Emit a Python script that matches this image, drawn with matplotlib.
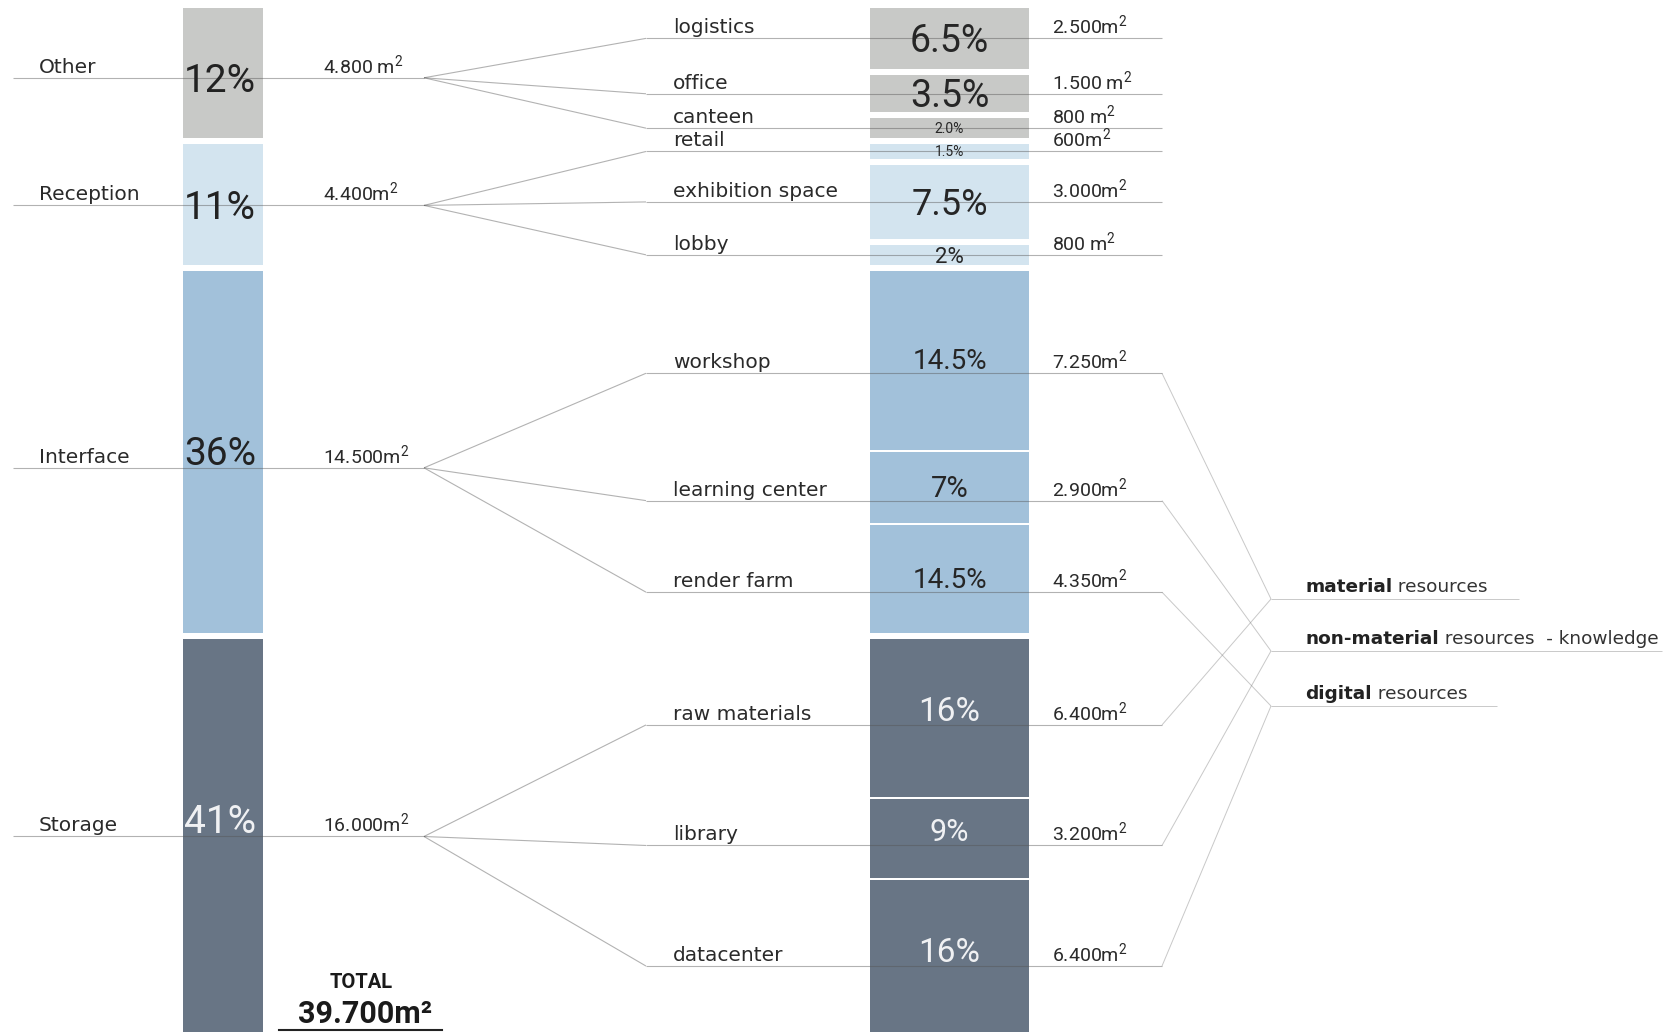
import numpy as np
import matplotlib
matplotlib.use('Agg')
import matplotlib.pyplot as plt
from matplotlib.transforms import offset_copy

# ---------------- data ----------------
groups = ['Other', 'Reception', 'Interface', 'Storage']
group_area = [4800, 4400, 14500, 16000]
group_pct = ['12%', '11%', '36%', '41%']
group_area_label = ['4.800 m²', '4.400m²', '14.500m²', '16.000m²']

spaces = ['logistics', 'office', 'canteen', 'retail', 'exhibition space', 'lobby',
          'workshop', 'learning center', 'render farm',
          'raw materials', 'library', 'datacenter']
space_group = [0, 0, 0, 1, 1, 1, 2, 2, 2, 3, 3, 3]
space_area = [2500, 1500, 800, 600, 3000, 800, 7250, 2900, 4350, 6400, 3200, 6400]
space_pct = ['6.5%', '3.5%', '2.0%', '1.5%', '7.5%', '2%',
             '14.5%', '7%', '14.5%', '16%', '9%', '16%']
space_area_label = ['2.500m²', '1.500 m²', '800 m²', '600m²', '3.000m²', '800 m²',
                    '7.250m²', '2.900m²', '4.350m²', '6.400m²', '3.200m²', '6.400m²']

resource_bold = ['material', 'non-material', 'digital']
resource_rest = [' resources', ' resources  - knowledge', ' resources']
space_resource = [None, None, None, None, None, None, 0, 1, 2, 0, 1, 2]

# ---------------- style / layout ----------------
W, H, DPI = 1676, 1032, 100
TOP_PX = 7.5
PX_PER_M2 = 0.0247
GAP_GROUP_PX = 6
GAP_INNER_PX = [6, 6, 2, 2]
GROUP_COLORS = ['#c8c9c7', '#d3e4ef', '#a2c1da', '#687585']
LEFT_X, LEFT_W = 223, 80
RIGHT_X, RIGHT_W = 949.5, 159
LEFT_PCT_X = 220
LEFT_DROP_PX = [5, 1, 16, -2]
RIGHT_DROP_PX = [0, 0, 13, 7]
SPACE_PCT_FS = [27, 27, 10, 10, 26, 16, 20, 21, 20, 24, 22, 24]
GROUP_PCT_FS = 28
LABEL_FS = 14.5
AREA_FS = 14
RES_FS = 13.3
RES_Y_PX = [599, 651, 706]
RES_END_PX = [1519, 1662, 1497]
TEXT_C = '#2a2a2a'
NUM_FONT = 'Roboto'

plt.rcParams['font.family'] = ['DejaVu Sans']
plt.rcParams['mathtext.fontset'] = 'custom'
plt.rcParams['mathtext.rm'] = 'Roboto'
plt.rcParams['mathtext.it'] = 'Roboto:italic'
plt.rcParams['mathtext.bf'] = 'Roboto:bold'

fig = plt.figure(figsize=(W / DPI, H / DPI), dpi=DPI)
ax = fig.add_axes([0, 0, 1, 1])
ax.set_axis_off()
ax.set_xlim(0, W)
ax.set_ylim((H - TOP_PX) / PX_PER_M2, -TOP_PX / PX_PER_M2)


def px_len(px):
    return np.asarray(px, float) / PX_PER_M2


def px_y(px):
    return (np.asarray(px, float) - TOP_PX) / PX_PER_M2


def txt(x, y, s, dx=0, dy=0, **kw):
    tr = offset_copy(ax.transData, fig=fig, x=dx, y=dy, units='dots')
    return ax.text(x, y, s, transform=tr, **kw)


def cap(fs):
    return fs * DPI / 72 * 0.711


def sup(s):
    return s.replace('²', r'$^{2}$')


# ---------------- stacking ----------------
areas = np.array(space_area, float)
sg = np.array(space_group)
starts = []
y = 0.0
for i, g in enumerate(space_group):
    if i > 0:
        y += px_len(GAP_GROUP_PX if g != space_group[i - 1] else GAP_INNER_PX[g])
    starts.append(y)
    y += areas[i]
starts = np.array(starts)
ends = starts + areas
g_start = np.array([starts[sg == g].min() for g in range(len(groups))])
g_end = np.array([ends[sg == g].max() for g in range(len(groups))])

ax.bar(LEFT_X, g_end - g_start, bottom=g_start, width=LEFT_W,
       color=GROUP_COLORS, linewidth=0, zorder=1)
ax.bar(RIGHT_X, areas, bottom=starts, width=RIGHT_W,
       color=[GROUP_COLORS[g] for g in space_group], linewidth=0, zorder=1)

g_line = (g_start + g_end) / 2 + px_len(LEFT_DROP_PX)
s_line = (starts + ends) / 2 + px_len([RIGHT_DROP_PX[g] for g in space_group])
res_y = px_y(RES_Y_PX)

LINE_KW = dict(color='#555555', alpha=0.45, lw=0.8, zorder=2, solid_capstyle='butt')
LIGHT_KW = dict(color='#777777', alpha=0.4, lw=0.7, zorder=2, solid_capstyle='butt')

for g in range(len(groups)):
    ax.plot([13, 424], [g_line[g]] * 2, **LINE_KW)
for i, g in enumerate(space_group):
    ax.plot([424, 646], [g_line[g], s_line[i]], **LINE_KW)
    ax.plot([646, 1162], [s_line[i]] * 2, **LINE_KW)
    r = space_resource[i]
    if r is not None:
        ax.plot([1162, 1271], [s_line[i], res_y[r]], **LIGHT_KW)
for r in range(len(resource_bold)):
    ax.plot([1271, RES_END_PX[r]], [res_y[r]] * 2, **LIGHT_KW)

# ---------------- texts ----------------
for g, name in enumerate(groups):
    txt(38.5, g_line[g], name, dy=5, fontsize=LABEL_FS, color=TEXT_C,
        va='baseline', ha='left', zorder=3)
    txt(323, g_line[g], sup(group_area_label[g]), dy=5, fontsize=AREA_FS, color=TEXT_C,
        family=NUM_FONT, va='baseline', ha='left', zorder=3)
    dy = -cap(GROUP_PCT_FS) / 2 if g < 2 else 3
    col = '#f0f1f3' if g == 3 else '#222222'
    txt(LEFT_PCT_X, g_line[g], group_pct[g], dy=dy, fontsize=GROUP_PCT_FS, color=col,
        family=NUM_FONT, va='baseline', ha='center', zorder=3)

for i, g in enumerate(space_group):
    txt(673, s_line[i], spaces[i], dy=5, fontsize=LABEL_FS, color=TEXT_C,
        va='baseline', ha='left', zorder=3)
    txt(1052, s_line[i], sup(space_area_label[i]), dy=5, fontsize=AREA_FS, color=TEXT_C,
        family=NUM_FONT, va='baseline', ha='left', zorder=3)
    fs = SPACE_PCT_FS[i]
    dy = -cap(fs) / 2 if g < 2 else 4
    col = '#f0f1f3' if g == 3 else '#262626'
    txt(RIGHT_X, s_line[i], space_pct[i], dy=dy, fontsize=fs, color=col,
        family=NUM_FONT, va='baseline', ha='center', zorder=3)

for r in range(len(resource_bold)):
    t = txt(1305, res_y[r], resource_bold[r], dy=7, fontsize=RES_FS, color='#222222',
            fontweight='bold', va='baseline', ha='left', zorder=3)
    ax.annotate(resource_rest[r], xy=(1, 0), xycoords=t, va='bottom', ha='left',
                fontsize=RES_FS, color='#333333', zorder=3)

total = sum(group_area)
total_label = f"{total:,}".replace(',', '.') + 'm²'
ax.text(361, px_y(988), 'TOTAL', ha='center', va='baseline', family=NUM_FONT,
        fontweight='bold', fontsize=14.5, color='#1a1a1a', zorder=3)
ax.text(365, px_y(1023), total_label, ha='center', va='baseline', family=NUM_FONT,
        fontweight='bold', fontsize=22, color='#1a1a1a', zorder=3)
ax.plot([279, 442], [px_y(1030)] * 2, color='#222222', lw=1.5, zorder=3)

fig.savefig('out.png', dpi=DPI)
